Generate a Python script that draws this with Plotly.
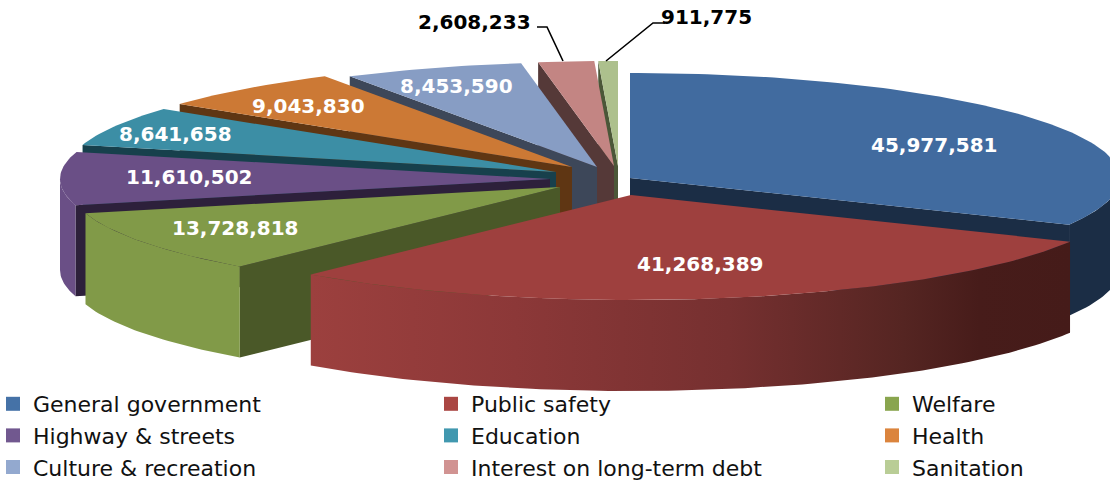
import math
import plotly.graph_objects as go

# Expenditure by function
categories = ["General government", "Public safety", "Welfare", "Highway & streets", "Education",
              "Health", "Culture & recreation", "Interest on long-term debt", "Sanitation"]
values = [45977581, 41268389, 13728818, 11610502, 8641658, 9043830, 8453590, 2608233, 911775]

legend_colors = ["#4572A7", "#AA4643", "#89A54E", "#71588F", "#4198AF", "#DB843D", "#93A9CF", "#D19392", "#B9CD96"]
top_colors = ["#416B9F", "#9E403E", "#819A48", "#6A4F86", "#3C8EA5", "#CC7935", "#879DC4", "#C38583", "#ADC08D"]
face_colors = ["#1B2D45", "#451B19", "#4A5828", "#2D203B", "#17404C", "#5F3613", "#3D4759", "#553938", "#4B5738"]

# Wedge geometry of the tilted pie: each exploded slice has its own apex
RX, RY, DEPTH = 490, 105, 91
apexes = [(630, 178), (631, 195), (560, 187), (550, 179), (556, 172), (572, 167), (597, 167), (614, 166), (618, 166)]
# Painter's order: back slices first, the two big front slices last
draw_order = [8, 7, 6, 5, 4, 3, 0, 2, 1]
# Which straight edge shows a cut face (0 = start edge, 1 = end edge)
cut_edge = {0: 1, 2: 0, 3: 0, 4: 0, 5: 0, 6: 0, 7: 0, 8: 0}
# Outer wall shading per slice: colour stops across the wall's width
wall_shades = {
    0: [[0, "#1B2D45"], [1, "#1B2D45"]],
    1: [[0, "#9C403E"], [0.27, "#8C3838"], [0.55, "#763030"], [0.78, "#552522"], [0.88, "#471C1A"], [1, "#451B19"]],
    2: [[0, "#819A48"], [1, "#819A48"]],
    3: [[0, "#6A4F86"], [1, "#6A4F86"]],
}

label_xy = [(934, 145), (700, 264), (235, 228), (189, 177), (175, 134), (308, 106), (456, 86), (474, 22), (706, 17)]
leaders = [([537, 547, 563], [27, 27, 61]), ([665, 653, 606], [23, 23, 61])]

total = sum(values)
starts, ends = [], []
acc = 0.0
for v in values:
    starts.append(acc / total * 360)
    acc += v
    ends.append(acc / total * 360)


def rim(apex, deg):
    t = math.radians(deg)
    return apex[0] + RX * math.sin(t), apex[1] - RY * math.cos(t)


def arc(apex, a, b, step=1.0):
    n = max(2, int(abs(b - a) / step) + 1)
    return [rim(apex, a + (b - a) * i / (n - 1)) for i in range(n)]


def polygon(pts, color=None, gradient=None):
    xs = [p[0] for p in pts] + [pts[0][0]]
    ys = [p[1] for p in pts] + [pts[0][1]]
    kw = dict(fillcolor=color) if gradient is None else dict(fillgradient=gradient)
    return go.Scatter(x=xs, y=ys, mode="lines", line=dict(width=0, color="rgba(0,0,0,0)"),
                      fill="toself", hoverinfo="skip", showlegend=False, **kw)


fig = go.Figure()
for i in draw_order:
    apex, a, b = apexes[i], starts[i], ends[i]
    # Straight cut face
    if i in cut_edge:
        p = rim(apex, b if cut_edge[i] else a)
        fig.add_trace(polygon([apex, p, (p[0], p[1] + DEPTH), (apex[0], apex[1] + DEPTH)], face_colors[i]))
    # Curved outer wall on the front half of the ellipse
    lo, hi = max(a, 90), min(b, 270)
    if lo < hi:
        edge = arc(apex, lo, hi)
        pts = edge + [(x, y + DEPTH) for x, y in reversed(edge)]
        xs = [p[0] for p in pts]
        grad = dict(type="horizontal", colorscale=wall_shades[i], start=min(xs), stop=max(xs))
        fig.add_trace(polygon(pts, gradient=grad))
    # Top surface
    fig.add_trace(polygon([apex] + arc(apex, a, b), top_colors[i]))

# Leader lines for the two thin slices
for lx, ly in leaders:
    fig.add_trace(go.Scatter(x=lx, y=ly, mode="lines", line=dict(color="#000000", width=1.6),
                             hoverinfo="skip", showlegend=False))

# Value labels
for i, (v, (x, y)) in enumerate(zip(values, label_xy)):
    fig.add_annotation(x=x, y=y, text=f"{v:,}", showarrow=False,
                       font=dict(family="DejaVu Sans", size=20, color="#000000" if i >= 7 else "#FFFFFF", weight="bold"))

# Legend: three columns, one legend each
layout_legends = {}
columns = [[0, 3, 6], [1, 4, 7], [2, 5, 8]]
col_left = [-7, 431, 872]
for c, members in enumerate(columns):
    key = "legend" if c == 0 else f"legend{c + 1}"
    for i in members:
        fig.add_trace(go.Scatter(x=[None], y=[None], mode="markers", name=categories[i], legend=key,
                                 legendgroup=categories[i],
                                 marker=dict(symbol="square", size=14, color=legend_colors[i])))
    layout_legends[key] = dict(x=col_left[c] / 1110, xanchor="left", y=1 - 383 / 483, yanchor="top",
                               orientation="v", tracegroupgap=0, bgcolor="rgba(0,0,0,0)",
                               font=dict(family="DejaVu Sans", size=22, color="#111111"),
                               itemclick=False, itemdoubleclick=False)

fig.update_layout(width=1110, height=483, margin=dict(l=0, r=0, t=0, b=0, autoexpand=False), autosize=False,
                  paper_bgcolor="#FFFFFF", plot_bgcolor="#FFFFFF",
                  xaxis=dict(range=[0, 1110], visible=False, fixedrange=True),
                  yaxis=dict(range=[483, 0], visible=False, fixedrange=True),
                  **layout_legends)

fig.write_html("out.html", config={"displayModeBar": False})
